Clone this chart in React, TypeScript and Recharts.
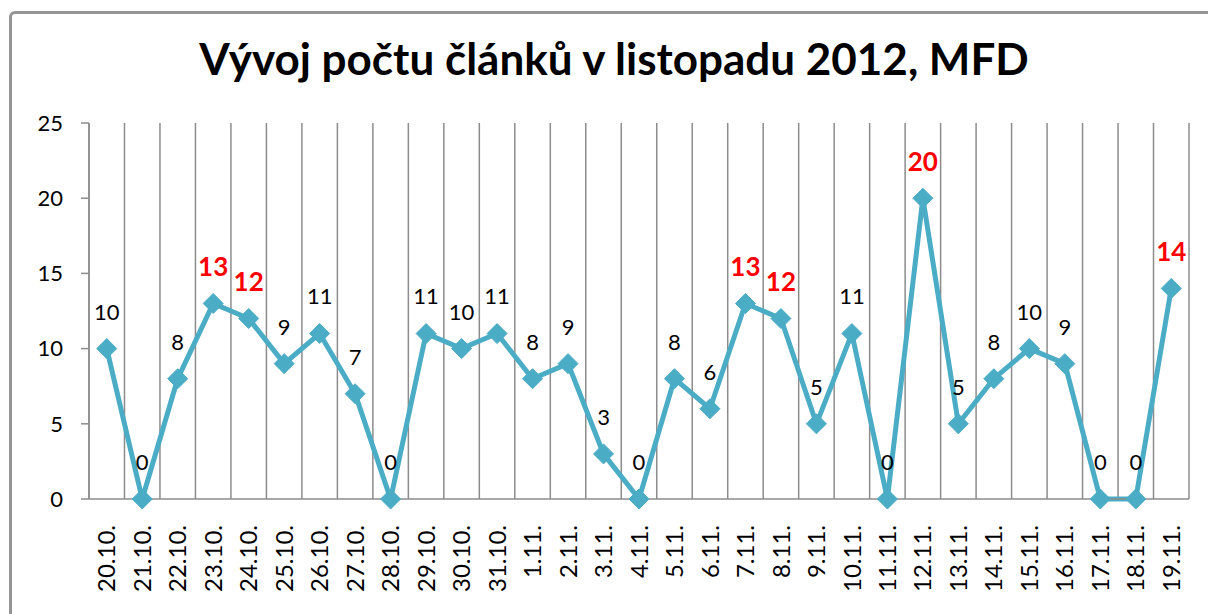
import React from 'react';
import { LineChart, Line, XAxis, YAxis, CartesianGrid, LabelList } from 'recharts';

const days = [
  '20.10.', '21.10.', '22.10.', '23.10.', '24.10.', '25.10.', '26.10.', '27.10.', '28.10.', '29.10.',
  '30.10.', '31.10.', '1.11.', '2.11.', '3.11.', '4.11.', '5.11.', '6.11.', '7.11.', '8.11.',
  '9.11.', '10.11.', '11.11.', '12.11.', '13.11.', '14.11.', '15.11.', '16.11.', '17.11.', '18.11.', '19.11.',
];
const articles = [
  10, 0, 8, 13, 12, 9, 11, 7, 0, 11,
  10, 11, 8, 9, 3, 0, 8, 6, 13, 12,
  5, 11, 0, 20, 5, 8, 10, 9, 0, 0, 14,
];
// days whose label is shown in red bold
const highlighted = ['23.10.', '24.10.', '7.11.', '8.11.', '12.11.', '19.11.'];
const yTicks = [0, 5, 10, 15, 20, 25];
// category boundaries: 0 .. days.length
const boundaries = [...days.map((_, i) => i), days.length];

const title = 'Vývoj počtu článků v listopadu 2012, MFD';

const LINE = '#4BACC6';
const GRID = '#8c8c8c';
const FONT = 'Lato, "Open Sans", sans-serif';

const data = days.map((day, i) => ({ day, count: articles[i], slot: i + 0.5 }));

const Diamond = (props: any) => {
  const { cx, cy } = props;
  if (cx == null || cy == null) return null;
  const r = 10;
  return (
    <polygon
      points={`${cx},${cy - r} ${cx + r},${cy} ${cx},${cy + r} ${cx - r},${cy}`}
      fill={LINE}
      stroke={LINE}
    />
  );
};

const DayTick = (props: any) => {
  const { x, y, payload } = props;
  const ty = y + 18;
  return (
    <text
      x={x}
      y={ty}
      dy="0.36em"
      textAnchor="end"
      transform={`rotate(-90, ${x}, ${ty})`}
      fontSize={24}
      fontFamily={FONT}
      fill="#000"
    >
      {payload.value}
    </text>
  );
};

const ValueLabel = (props: any) => {
  const { x, y, value, index } = props;
  const hot = highlighted.includes(days[index]);
  return (
    <text
      x={x}
      y={y - 37}
      dy="0.36em"
      textAnchor="middle"
      fontSize={hot ? 26 : 22}
      fontWeight={hot ? 700 : 400}
      fontFamily={FONT}
      fill={hot ? '#ff0000' : '#000'}
    >
      {value}
    </text>
  );
};

const noTick = () => <g />;

export default function App() {
  return (
    <div style={{ position: 'fixed', left: 0, top: 0, width: 1208, height: 614, background: '#fff', overflow: 'hidden' }}>
      <div
        style={{
          position: 'absolute', left: 9, top: 11, width: 1260, height: 680,
          border: '3px solid #959595', borderRadius: 6, boxSizing: 'border-box',
        }}
      />
      <svg width={1208} height={120} style={{ position: 'absolute', left: 0, top: 0 }}>
        <text x={614} y={75} textAnchor="middle" fontSize={44} fontWeight={700} fontFamily={FONT} fill="#000">
          {title}
        </text>
      </svg>
      <div style={{ position: 'absolute', left: 0, top: 0 }}>
        <LineChart width={1208} height={614} data={data} margin={{ top: 123, right: 19, bottom: 0, left: 29 }}>
          <CartesianGrid horizontal={false} xAxisId="grid" stroke={GRID} strokeWidth={1.5} />
          <XAxis
            xAxisId="grid"
            type="number"
            dataKey="slot"
            domain={[0, days.length]}
            ticks={boundaries}
            height={0}
            axisLine={false}
            tickLine={{ stroke: GRID, strokeWidth: 1.5 }}
            tickSize={8}
            tick={noTick}
          />
          <XAxis
            xAxisId="cat"
            dataKey="day"
            scale="band"
            interval={0}
            height={115}
            tickLine={false}
            axisLine={{ stroke: GRID, strokeWidth: 1.5 }}
            tick={<DayTick />}
          />
          <YAxis
            domain={[0, 25]}
            ticks={yTicks}
            width={60}
            tickSize={8}
            tickMargin={18}
            axisLine={{ stroke: GRID, strokeWidth: 1.5 }}
            tickLine={{ stroke: GRID, strokeWidth: 1.5 }}
            tick={{ fill: '#000', fontSize: 22, fontFamily: FONT }}
          />
          <Line
            xAxisId="cat"
            dataKey="count"
            stroke={LINE}
            strokeWidth={5}
            dot={<Diamond />}
            activeDot={false}
            isAnimationActive={false}
          >
            <LabelList dataKey="count" content={<ValueLabel />} />
          </Line>
        </LineChart>
      </div>
    </div>
  );
}
